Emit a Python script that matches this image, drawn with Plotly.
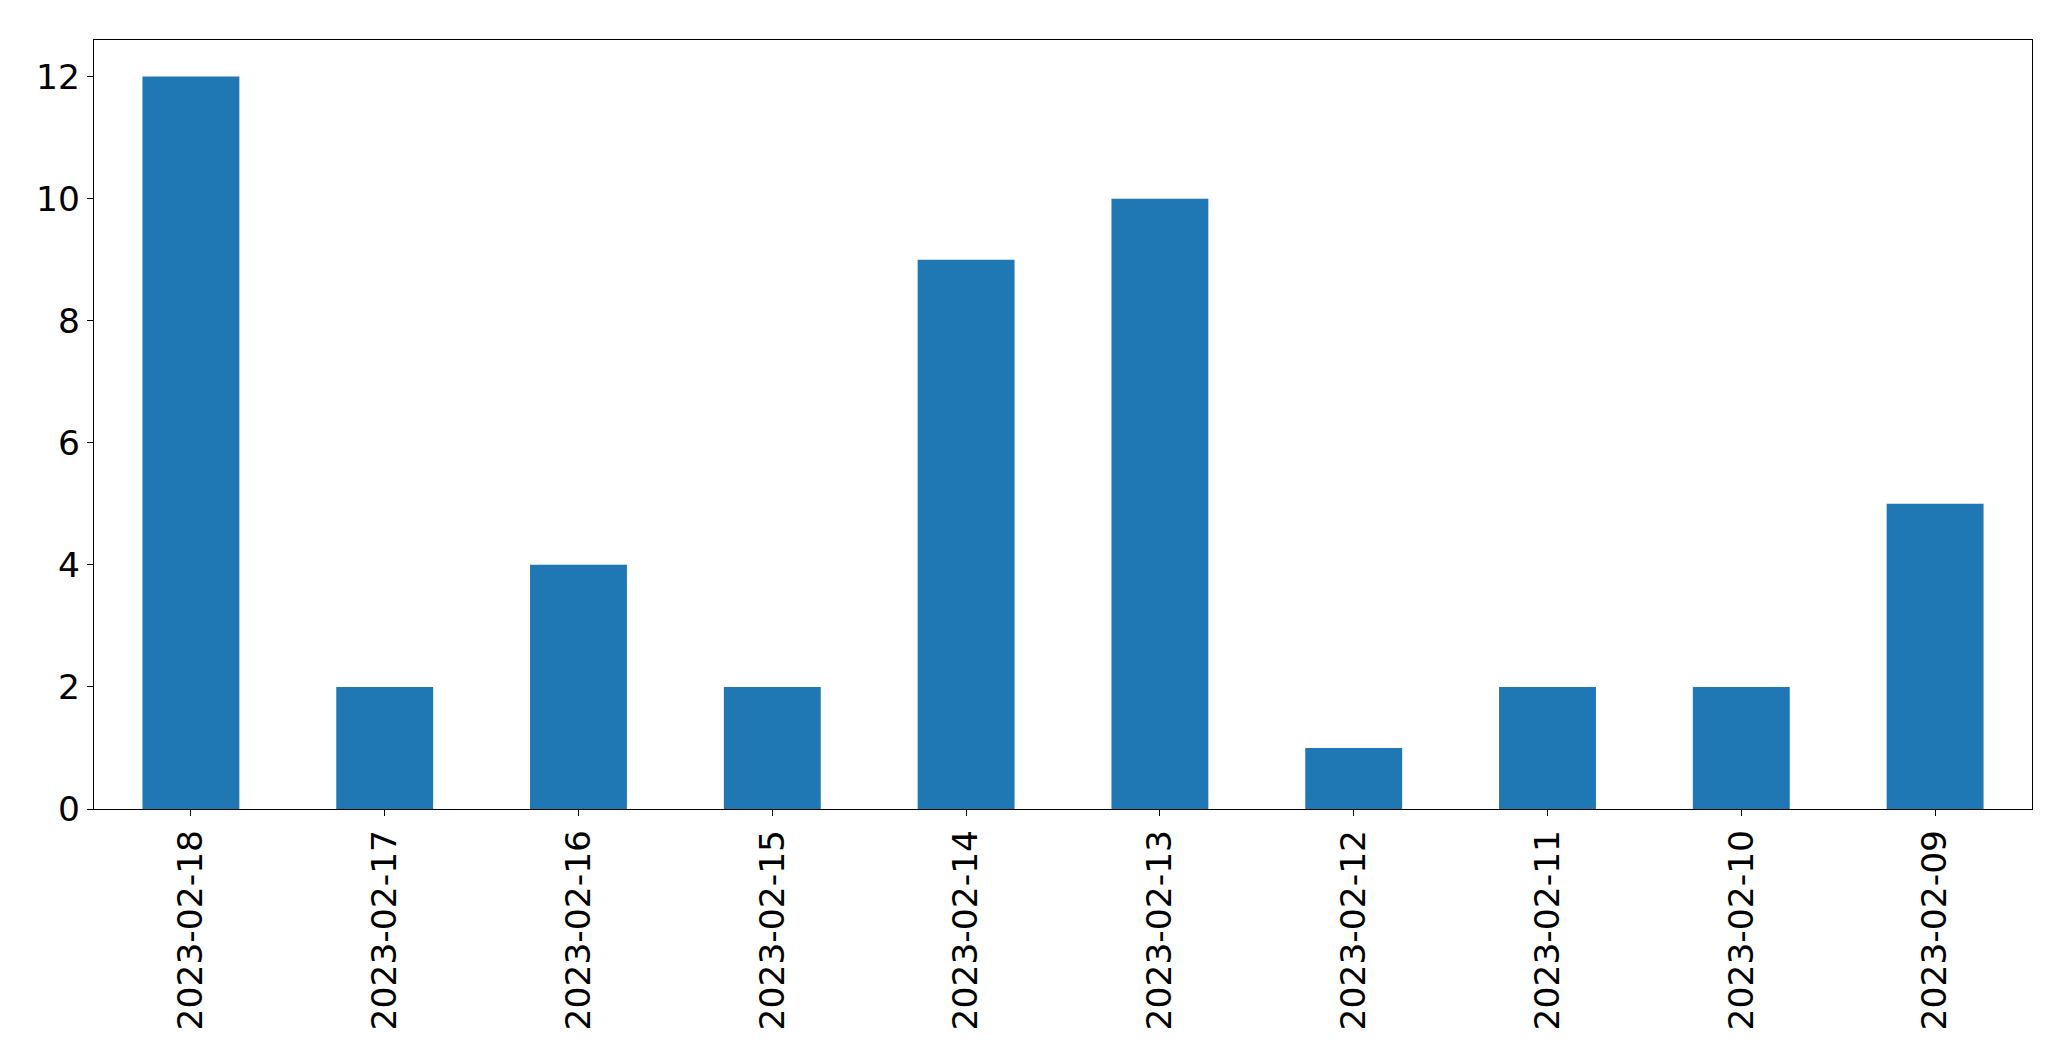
import plotly.graph_objects as go

dates = ["2023-02-18", "2023-02-17", "2023-02-16", "2023-02-15", "2023-02-14",
         "2023-02-13", "2023-02-12", "2023-02-11", "2023-02-10", "2023-02-09"]
counts = [12, 2, 4, 2, 9, 10, 1, 2, 2, 5]
y_ticks = [0, 2, 4, 6, 8, 10, 12]

fig = go.Figure(go.Bar(x=dates, y=counts, width=0.5, marker=dict(color="#1f77b4", line=dict(width=0))))

font = dict(family="DejaVu Sans", size=34.5, color="black")
fig.update_layout(
    width=2063, height=1053,
    margin=dict(l=86, r=39, t=32, b=252, pad=0),
    paper_bgcolor="white", plot_bgcolor="white",
    showlegend=False,
    font=font,
)
fig.update_xaxes(
    type="category", range=[-0.5, 9.5],
    tickangle=-90, tickfont=font,
    showline=True, mirror=True, linecolor="black", linewidth=1.3,
    ticks="outside", ticklen=6, tickwidth=1.3, tickcolor="black",
    showgrid=False, zeroline=False,
)
fig.update_yaxes(
    range=[0, 12.6], tickvals=y_ticks, tickfont=font,
    showline=True, mirror=True, linecolor="black", linewidth=1.3,
    ticks="outside", ticklen=6, tickwidth=1.3, tickcolor="black",
    showgrid=False, zeroline=False,
)
fig.write_html("out.html")
